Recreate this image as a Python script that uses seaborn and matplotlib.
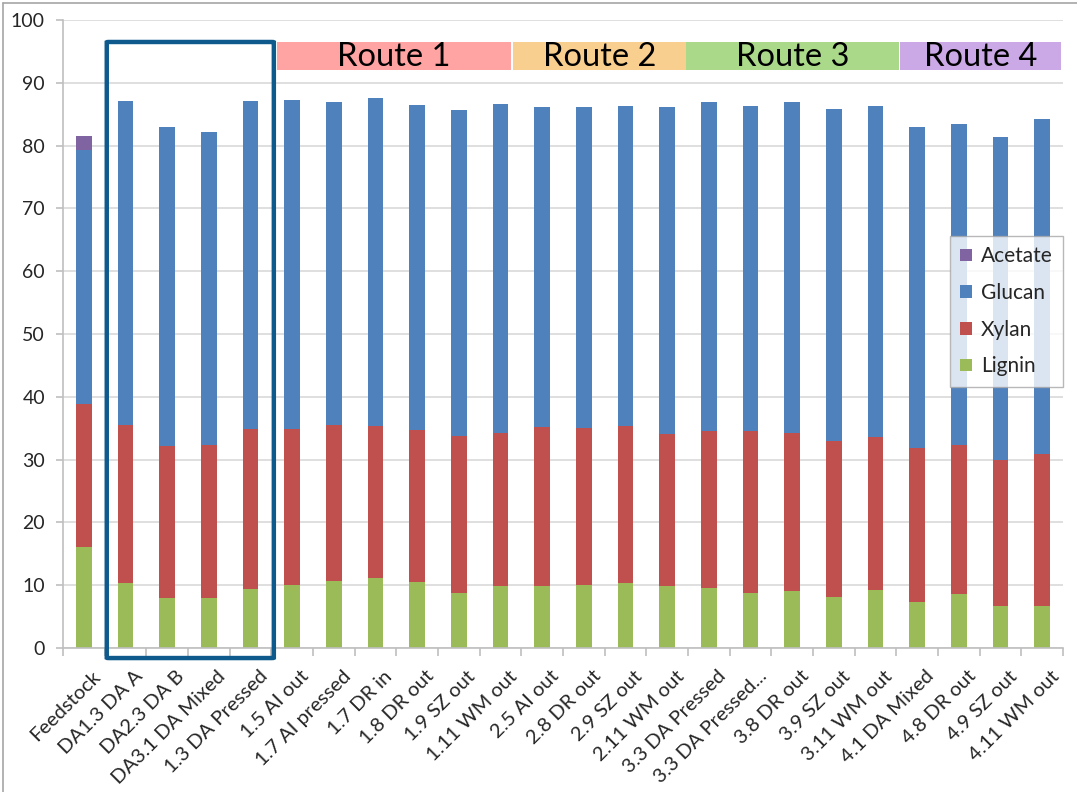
import matplotlib
matplotlib.use("Agg")
import matplotlib.pyplot as plt
from matplotlib.patches import Patch, Rectangle, FancyBboxPatch
from matplotlib.lines import Line2D
from matplotlib.ticker import MultipleLocator, FixedLocator
from matplotlib.transforms import ScaledTranslation
import numpy as np
import pandas as pd
import seaborn as sns

# Composition of each sample stream (% of dry mass)
categories = [
    "Feedstock", "DA1.3 DA A", "DA2.3 DA B", "DA3.1 DA Mixed", "1.3 DA Pressed",
    "1.5 AI out", "1.7 AI pressed", "1.7 DR in", "1.8 DR out", "1.9 SZ out",
    "1.11 WM out", "2.5 AI out", "2.8 DR out", "2.9 SZ out", "2.11 WM out",
    "3.3 DA Pressed", "3.3 DA Pressed...", "3.8 DR out", "3.9 SZ out",
    "3.11 WM out", "4.1 DA Mixed", "4.8 DR out", "4.9 SZ out", "4.11 WM out",
]
lignin = [16.1, 10.4, 7.9, 7.9, 9.4, 10.1, 10.7, 11.2, 10.5, 8.7, 9.9, 9.9,
          10.0, 10.4, 9.9, 9.5, 8.8, 9.1, 8.1, 9.2, 7.3, 8.6, 6.7, 6.7]
xylan = [22.8, 25.1, 24.3, 24.4, 25.5, 24.8, 24.8, 24.1, 24.2, 25.0, 24.4, 25.3,
         25.0, 24.9, 24.2, 25.0, 25.8, 25.1, 24.9, 24.4, 24.6, 23.8, 23.2, 24.2]
glucan = [40.4, 51.6, 50.8, 49.8, 52.2, 52.4, 51.5, 52.3, 51.8, 52.0, 52.4, 50.9,
          51.2, 51.0, 52.0, 52.4, 51.7, 52.7, 52.9, 52.7, 51.1, 51.1, 51.5, 53.3]
acetate = [2.2, 0, 0, 0, 0, 0, 0, 0, 0, 0, 0, 0,
           0, 0, 0, 0, 0, 0, 0, 0, 0, 0, 0, 0]

components = ["Lignin", "Xylan", "Glucan", "Acetate"]
colors = {"Lignin": "#9BBB59", "Xylan": "#C0504D",
          "Glucan": "#4F81BD", "Acetate": "#8064A2"}

# Process-route banners: (label, first category edge, last category edge, colour)
route_names = ["Route 1", "Route 2", "Route 3", "Route 4"]
route_spans = [(4.63, 10.26), (10.30, 14.44), (14.44, 19.57), (19.59, 23.45)]
route_colors = ["#FFA3A3", "#F9CF8F", "#AAD98A", "#CBA9E6"]

df = pd.DataFrame({"Sample": categories, "Lignin": lignin, "Xylan": xylan,
                   "Glucan": glucan, "Acetate": acetate})
cum = df[components].cumsum(axis=1)

sns.set_theme(style="white")
plt.rcParams["font.family"] = ["Lato", "DejaVu Sans"]

fig = plt.figure(figsize=(10.77, 7.92), dpi=100)
ax = fig.add_axes([63 / 1077, 1 - 648 / 792, 1000 / 1077, 628 / 792])

# Stacked bars: draw cumulative totals from the top layer down
for comp in reversed(components):
    sns.barplot(x=df["Sample"], y=cum[comp], order=categories, color=colors[comp],
                saturation=1, width=0.38, ax=ax, linewidth=0, zorder=2)

ax.set_ylim(0, 100)
ax.set_xlim(-0.5, len(categories) - 0.5)
ax.yaxis.set_major_locator(MultipleLocator(10))
ax.grid(axis="y", color="#D9D9D9", linewidth=1.2, zorder=0)
ax.set_axisbelow(True)
ax.set_xlabel("")
ax.set_ylabel("")

for side in ["top", "right"]:
    ax.spines[side].set_visible(False)
for side in ["left", "bottom"]:
    ax.spines[side].set_color("#BFBFBF")
    ax.spines[side].set_linewidth(1.2)

ax.tick_params(axis="y", which="major", length=5, width=1.2, color="#BFBFBF",
               labelsize=14, labelcolor="#262626", pad=8, left=True)
ax.xaxis.set_minor_locator(FixedLocator(np.arange(-0.5, len(categories), 1.0)))
ax.tick_params(axis="x", which="minor", length=6, width=1.2, color="#BFBFBF",
               bottom=True, direction="out")
ax.tick_params(axis="x", which="major", length=0, labelsize=14.5,
               labelcolor="#262626", pad=14)
ax.set_xticks(range(len(categories)))
ax.set_xticklabels(categories, rotation=45, ha="right", rotation_mode="anchor")
shift = ScaledTranslation(0.08, 0, fig.dpi_scale_trans)
for lab in ax.get_xticklabels():
    lab.set_transform(lab.get_transform() + shift)

# Route banners above the bars
for name, (x0, x1), c in zip(route_names, route_spans, route_colors):
    ax.add_patch(Rectangle((x0, 92.0), x1 - x0, 4.5, facecolor=c,
                           edgecolor="none", clip_on=False, zorder=3))
    ax.text((x0 + x1) / 2, 94.1, name, ha="center", va="center",
            fontsize=23.5, color="#000000", zorder=4)

# Highlight box around the dilute-acid pretreatment samples
ax.add_patch(FancyBboxPatch((0.55, -1.6), 4.01, 98.1,
                            boxstyle="round,pad=0,rounding_size=0.05",
                            facecolor="none", edgecolor="#0E5A8C",
                            linewidth=3.2, clip_on=False, zorder=5))

handles = [Patch(facecolor=colors[c], edgecolor="none") for c in reversed(components)]
leg = ax.legend(handles, list(reversed(components)), loc="upper left",
                bbox_to_anchor=(950 / 1077, 1 - 236 / 792),
                bbox_transform=fig.transFigure, frameon=True, fancybox=False,
                fontsize=15, handlelength=0.55, handleheight=0.55,
                handletextpad=0.45, labelspacing=0.8, borderpad=0.5,
                borderaxespad=0)
leg.get_frame().set_edgecolor("#A6A6A6")
leg.get_frame().set_linewidth(1.0)
for t in leg.get_texts():
    t.set_color("#262626")

# Outer chart-area border
fig.add_artist(Line2D([3 / 1077, 3 / 1077], [0, 1 - 3 / 792],
                      transform=fig.transFigure, color="#A6A6A6", linewidth=1.2))
fig.add_artist(Line2D([3 / 1077, 1], [1 - 3 / 792, 1 - 3 / 792],
                      transform=fig.transFigure, color="#A6A6A6", linewidth=1.2))

fig.savefig("out.png", dpi=100)
